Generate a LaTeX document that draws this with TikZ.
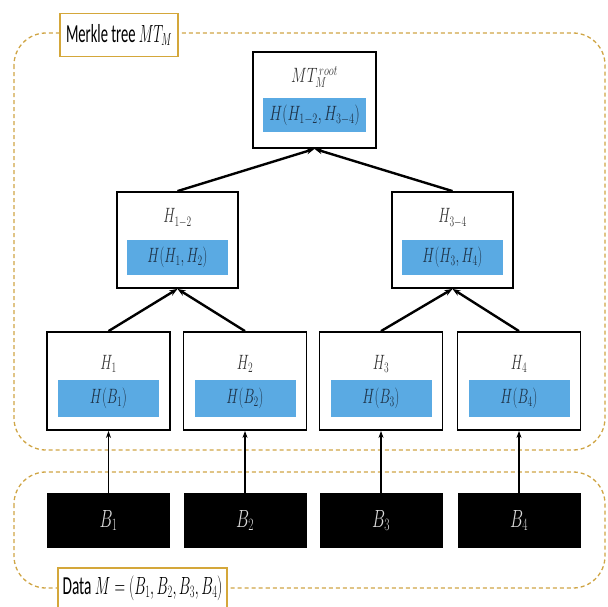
\documentclass[tikz,border=0pt]{standalone}
\usepackage{fontspec}
\usepackage{graphicx}
\setmainfont{Carlito}
\usetikzlibrary{arrows.meta}
\definecolor{gold}{HTML}{D4A73A}
\definecolor{dashgold}{HTML}{CFA545}
\definecolor{barblue}{HTML}{5AAAE3}
\definecolor{bartext}{HTML}{1E3247}
\newcommand{\cnd}[2][0.66]{\scalebox{#1}[1]{#2}}
\begin{document}
\begin{tikzpicture}[x=1pt,y=-1pt,
  region/.style={draw=dashgold, line width=1.3pt, dash pattern=on 4pt off 3pt, rounded corners=32pt},
  tag/.style={draw=gold, line width=1.5pt, fill=white, inner sep=0pt},
  hbox/.style={draw=black, line width=1.8pt, fill=white, inner sep=0pt, minimum width=#1},
  bar/.style={fill=barblue, inner sep=0pt, minimum width=#1, text=bartext, font=\fontsize{22}{24}\selectfont},
  hlabel/.style={text=black!80, font=\fontsize{22}{24}\selectfont, inner sep=0pt},
  blk/.style={fill=black, inner sep=0pt, minimum width=123pt, minimum height=55pt, text=white!85!black, font=\fontsize{23}{25}\selectfont},
  up/.style={-{Stealth[length=8pt,width=6pt]}, line width=2.4pt},
  thin up/.style={-{Stealth[length=7pt,width=5pt]}, line width=1.2pt}]
\useasboundingbox (0,0) rectangle (608,606);
% regions
\draw[region] (14,33) rectangle (605,450);
\draw[region] (14,472) rectangle (605,588);
% region tags
\node[tag, minimum width=118pt, minimum height=43pt] (mtag) at (119,35) {\fontsize{26}{28}\selectfont\cnd[0.56]{Merkle tree $MT_M$}};
\draw[gold, line width=1.5pt, fill=white] (58,612) -- (58,568) -- (227,568) -- (227,612);
\node[inner sep=0pt, font=\fontsize{26}{28}\selectfont] (dtag) at (142.5,588) {\cnd[0.59]{Data $M=(B_1,B_2,B_3,B_4)$}};
% root
\node[hbox=123pt, minimum height=96pt] (root) at (314.5,100) {};
\node[hlabel, font=\fontsize{20}{22}\selectfont] (rootl) at (314.5,77) {\cnd[0.72]{$MT_M^{\,root}$}};
\node[bar=103pt, minimum height=34pt, font=\fontsize{20}{22}\selectfont] (rootb) at (314.5,115) {\cnd[0.71]{$H(H_{1-2},H_{3-4})$}};
% level 1
\node[hbox=121pt, minimum height=96pt] (h12) at (177.5,240) {};
\node[hlabel] (h12l) at (177.5,218) {\cnd{$H_{1-2}$}};
\node[bar=101pt, minimum height=35pt] (h12b) at (177.5,257.5) {\cnd{$H(H_1,H_2)$}};
\node[hbox=121pt, minimum height=96pt] (h34) at (452.5,240) {};
\node[hlabel] (h34l) at (452.5,218) {\cnd{$H_{3-4}$}};
\node[bar=101pt, minimum height=35pt] (h34b) at (452.5,257.5) {\cnd{$H(H_3,H_4)$}};
% leaves
\foreach \i/\x in {1/108.5,2/245,3/381,4/519}{
  \node[hbox=123pt, minimum height=98pt] (h\i) at (\x,381) {};
  \node[hlabel] (h\i l) at (\x,364) {\cnd{$H_\i$}};
  \node[bar=101pt, minimum height=37pt] (h\i b) at (\x,398.5) {\cnd{$H(B_\i)$}};
  \node[blk] (b\i) at (\x,520.5) {\cnd{$B_\i$}};
  \draw[thin up] (b\i.north) -- (h\i.south);
}
% tree edges
\draw[up] (h12.north) -- (root.south);
\draw[up] (h34.north) -- (root.south);
\draw[up] (h1.north) -- (h12.south);
\draw[up] (h2.north) -- (h12.south);
\draw[up] (h3.north) -- (h34.south);
\draw[up] (h4.north) -- (h34.south);
\end{tikzpicture}
\end{document}
